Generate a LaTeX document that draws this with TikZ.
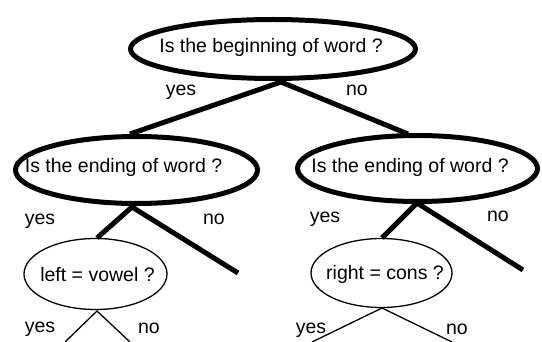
\documentclass[tikz,border=0pt]{standalone}
\usepackage{fontspec}
\setmainfont{Liberation Sans}
\usetikzlibrary{shapes.geometric}
\begin{document}
\begin{tikzpicture}[x=1pt,y=-1pt,
  heavyq/.style={ellipse, draw, line width=5pt, inner sep=0pt},
  lightq/.style={ellipse, draw, line width=1.3pt, inner sep=0pt},
  qtext/.style={anchor=base, inner sep=0pt, font=\fontsize{19.5}{23}\selectfont},
  ans/.style={inner sep=0pt, font=\fontsize{19.5}{23}\selectfont},
  heavyedge/.style={line width=5pt, line join=miter},
  lightedge/.style={line width=1.3pt, line join=miter}]
\useasboundingbox (0,0) rectangle (542,342);

% question ellipses
\node[heavyq, minimum width=285pt, minimum height=59pt] (root) at (273,49) {};
\node[heavyq, minimum width=242pt, minimum height=67pt] (endL) at (136.5,170) {};
\node[heavyq, minimum width=240pt, minimum height=66pt] (endR) at (417.5,168.5) {};
\node[lightq, minimum width=143pt, minimum height=71pt] (vowel) at (95.5,274) {};
\node[lightq, minimum width=141pt, minimum height=69pt] (cons) at (381.5,273) {};

% question texts
\node[qtext] (rootT) at (271,53) {Is the beginning of word ?};
\node[qtext] (endLT) at (123.5,173) {Is the ending of word ?};
\node[qtext] (endRT) at (410,172.5) {Is the ending of word ?};
\node[qtext] (vowelT) at (97.5,282) {left = vowel ?};
\node[qtext] (consT) at (385,280) {right = cons ?};

% branch points and branch ends
\coordinate (j0) at (281,82);
\coordinate (j0a) at (130,134);
\coordinate (j0b) at (408,134);
\coordinate (jL) at (132,207);
\coordinate (jLa) at (97,238);
\coordinate (jLb) at (238,273);
\coordinate (jR) at (417,203);
\coordinate (jRa) at (382,238);
\coordinate (jRb) at (523,270);
\coordinate (jV) at (97,311);
\coordinate (jVa) at (65,342);
\coordinate (jVb) at (130,342);
\coordinate (jC) at (382,308);
\coordinate (jCa) at (312,342);
\coordinate (jCb) at (452,342);

% branches
\draw[heavyedge] (j0a) -- (j0) -- (j0b);
\draw[heavyedge] (jLa) -- (jL) -- (jLb);
\draw[heavyedge] (jRa) -- (jR) -- (jRb);
\draw[lightedge] (jVa) -- (jV) -- (jVb);
\draw[lightedge] (jCa) -- (jC) -- (jCb);

% answers
\node[ans] (y0) at (181,92) {yes};
\node[ans] (n0) at (357,90) {no};
\node[ans] (yL) at (40,221) {yes};
\node[ans] (nL) at (214,219) {no};
\node[ans] (yR) at (325,219) {yes};
\node[ans] (nR) at (498,216) {no};
\node[ans] (yV) at (40,329) {yes};
\node[ans] (nV) at (149,328) {no};
\node[ans] (yC) at (311,330) {yes};
\node[ans] (nC) at (457,329) {no};
\end{tikzpicture}
\end{document}
